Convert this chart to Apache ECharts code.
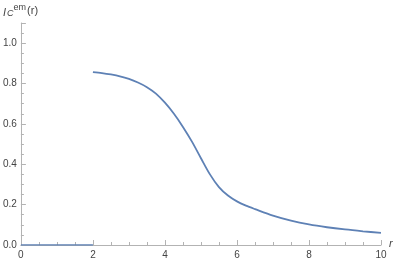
<!DOCTYPE html>
<html><head><meta charset="utf-8">
<script src="https://cdn.jsdelivr.net/npm/echarts@6/dist/echarts.min.js"></script>
<style>html,body{margin:0;padding:0;background:#fff}#c{width:395px;height:262px}</style>
</head><body><div id="c"></div>
<script>
const flatX = [0, 2];
const flatY = [0, 0];
const curveX = [2, 2.25, 2.5, 2.75, 3, 3.25, 3.5, 3.75, 4, 4.25, 4.5, 4.75, 5, 5.25, 5.5, 5.75, 6, 6.25, 6.5, 7, 7.5, 8, 8.5, 9, 9.5, 10];
const curveY = [0.857, 0.852, 0.845, 0.836, 0.823, 0.805, 0.782, 0.75, 0.705, 0.65, 0.585, 0.512, 0.43, 0.35, 0.287, 0.245, 0.216, 0.195, 0.178, 0.146, 0.121, 0.102, 0.088, 0.077, 0.068, 0.06];
const xTicks = [0, 2, 4, 6, 8, 10];
const yTicks = [0, 0.2, 0.4, 0.6, 0.8, 1.0];

const lineColor = '#5E81B5';
const axisGray = '#b3b3b3';
const labelColor = '#444';
const chart = echarts.init(document.getElementById('c'));
chart.setOption({
  animation: false,
  grid: {left: 18, right: 14, top: 23, bottom: 17, containLabel: false},
  xAxis: {
    type: 'value', min: 0, max: 10, interval: 2,
    axisLine: {show: true, lineStyle: {color: axisGray}},
    axisTick: {show: true, inside: true, length: 5, lineStyle: {color: axisGray}},
    minorTick: {show: true, splitNumber: 4, length: 3, lineStyle: {color: axisGray}},
    splitLine: {show: false},
    axisLabel: {color: labelColor, fontSize: 10, fontFamily: 'Liberation Sans', margin: 5,
      formatter: v => xTicks.includes(v) ? String(v) : ''}
  },
  yAxis: {
    type: 'value', min: 0, max: 1.1, interval: 0.2,
    axisLine: {show: true, lineStyle: {color: axisGray}},
    axisTick: {show: true, inside: true, length: 5, lineStyle: {color: axisGray}},
    minorTick: {show: true, splitNumber: 4, length: 3, lineStyle: {color: axisGray}},
    splitLine: {show: false},
    axisLabel: {color: labelColor, fontSize: 10, fontFamily: 'Liberation Sans', margin: 4, showMaxLabel: false,
      formatter: v => yTicks.some(t => Math.abs(t - v) < 1e-9) ? v.toFixed(1) : ''}
  },
  graphic: [
    {type: 'text', left: 3, top: 3, style: {
      text: '{i|I}{sub|C}{sup|em}{n|(r)}',
      rich: {
        i: {fontStyle: 'italic', fontSize: 11, fill: labelColor, fontFamily: 'Liberation Sans', verticalAlign: 'bottom'},
        sub: {fontStyle: 'italic', fontSize: 9, fill: labelColor, fontFamily: 'Liberation Sans', padding: [6, 0, 0, 1]},
        sup: {fontSize: 9, fill: labelColor, fontFamily: 'Liberation Sans', padding: [0, 0, 6, 0]},
        n: {fontSize: 11, fill: labelColor, fontFamily: 'Liberation Sans', padding: [0, 0, 0, 1]}
      }
    }},
    {type: 'text', left: 389, top: 238, style: {text: 'r', fontStyle: 'italic', fontSize: 11, fill: labelColor, fontFamily: 'Liberation Sans'}}
  ],
  series: [
    {type: 'line', data: flatX.map((x, i) => [x, flatY[i]]), showSymbol: false, lineStyle: {color: lineColor, width: 1.5}, z: 3},
    {type: 'line', data: curveX.map((x, i) => [x, curveY[i]]), showSymbol: false, smooth: 0.3, lineStyle: {color: lineColor, width: 1.8}}
  ]
});
</script></body></html>
